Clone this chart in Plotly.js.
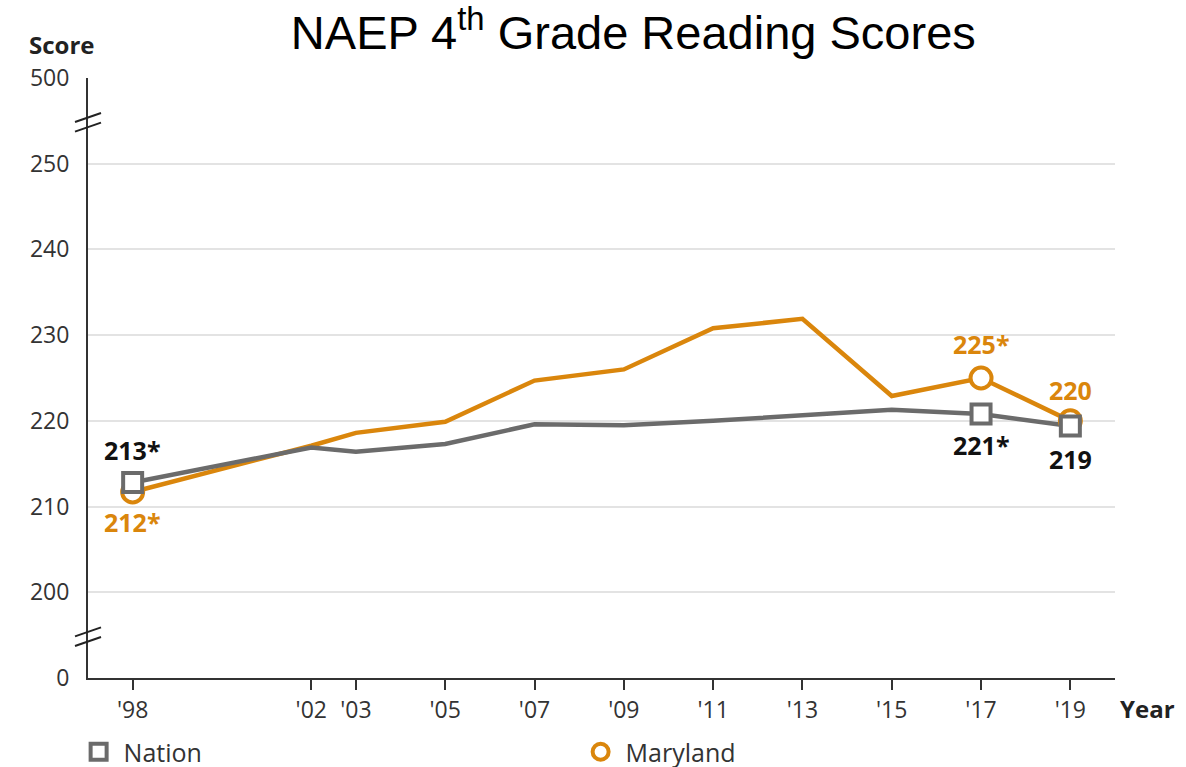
<!DOCTYPE html>
<html>
<head>
<meta charset="utf-8">
<script src="https://cdn.plot.ly/plotly-3.0.1.min.js"></script>
<style>html,body{margin:0;padding:0;background:#fff;}#chart{width:1186px;height:767px;}</style>
</head>
<body>
<div id="chart"></div>
<script>
// ---- data ----
const years = [1998, 2002, 2003, 2005, 2007, 2009, 2011, 2013, 2015, 2017, 2019];
const tickLabels = ["'98", "'02", "'03", "'05", "'07", "'09", "'11", "'13", "'15", "'17", "'19"];
const nation = [212.8, 216.9, 216.4, 217.3, 219.6, 219.5, 220.0, 220.6, 221.3, 220.8, 219.4];
const maryland = [211.7, 217.1, 218.6, 219.9, 224.7, 226.0, 230.8, 231.9, 222.9, 225.0, 220.0];
const markedIdx = [0, 9, 10];
const nationLabels = ["213*", "221*", "219"];
const marylandLabels = ["212*", "225*", "220"];
// y axis: broken scale (0 and 500 shown at one step beyond 200 and 250)
const yTickVals = [190, 200, 210, 220, 230, 240, 250, 260];
const yTickText = ["0", "200", "210", "220", "230", "240", "250", "500"];

const NAT = "#6b6b6b";
const MD = "#da860c";
const FONT = "Open Sans, sans-serif";

const traces = [
  {x: years, y: maryland, mode: "lines", line: {color: MD, width: 4.5}, showlegend: false, hoverinfo: "skip"},
  {x: years, y: nation, mode: "lines", line: {color: NAT, width: 4.5}, showlegend: false, hoverinfo: "skip"},
  {x: markedIdx.map(i => years[i]), y: markedIdx.map(i => maryland[i]), mode: "markers",
   marker: {symbol: "circle", size: 21, color: "#fff", line: {color: MD, width: 4}}, showlegend: false},
  {x: markedIdx.map(i => years[i]), y: markedIdx.map(i => nation[i]), mode: "markers",
   marker: {symbol: "square", size: 19, color: "#fff", line: {color: NAT, width: 4}}, showlegend: false},
  {x: [null], y: [null], mode: "markers", name: "Nation",
   marker: {symbol: "square", size: 16, color: "#fff", line: {color: NAT, width: 4}}},
  {x: [null], y: [null], mode: "markers", name: "Maryland",
   marker: {symbol: "circle", size: 17, color: "#fff", line: {color: MD, width: 4}}}
];

const labelFont = (c) => ({family: FONT, size: 25, color: c});
const annotations = [];
const natShift = [33, -31, -33];
const mdShift = [-30, 34, 31];
markedIdx.forEach((i, k) => {
  annotations.push({x: years[i], y: nation[i], text: "<b>" + nationLabels[k] + "</b>", showarrow: false,
    yshift: natShift[k], font: labelFont("#111")});
  annotations.push({x: years[i], y: maryland[i], text: "<b>" + marylandLabels[k] + "</b>", showarrow: false,
    yshift: mdShift[k], font: labelFont(MD)});
});
annotations.push({xref: "paper", yref: "paper", x: 0, y: 1, xanchor: "left", yanchor: "middle", xshift: -61, yshift: 34,
  text: "<b>Score</b>", showarrow: false, font: {family: FONT, size: 24, color: "#222"}});
annotations.push({xref: "paper", yref: "paper", x: 1.0, y: 0, xanchor: "left", yanchor: "middle", xshift: 3, yshift: -30,
  text: "<b>Year</b>", showarrow: false, font: {family: FONT, size: 24, color: "#222"}});

// axis break marks
const shapes = [];
[255, 195].forEach(v => {
  [-3, 3].forEach(off => {
    shapes.push({type: "line", xref: "paper", yref: "y", xsizemode: "pixel", ysizemode: "pixel",
      xanchor: 0, yanchor: v, x0: -13, x1: 13, y0: -6 + off * 1.6, y1: 3 + off * 1.6,
      line: {color: "#222", width: 2}});
  });
});

const layout = {
  width: 1186, height: 767,
  margin: {l: 88, r: 71, t: 78, b: 89, autoexpand: false},
  paper_bgcolor: "#fff", plot_bgcolor: "#fff",
  title: {text: "NAEP 4<sup>th</sup> Grade Reading Scores", x: 0.534, xanchor: "center", y: 0.957, yanchor: "middle",
    font: {family: "Liberation Sans, Arial, sans-serif", size: 47, color: "#000"}},
  xaxis: {range: [1997, 2020], tickvals: years, ticktext: tickLabels, showgrid: false, zeroline: false,
    showline: true, linecolor: "#333", linewidth: 2, ticks: "outside", ticklen: 10, tickwidth: 2, tickcolor: "#333",
    tickfont: {family: FONT, size: 23, color: "#333"}, fixedrange: true},
  yaxis: {range: [190, 260], tickvals: yTickVals, ticktext: yTickText, showgrid: true, gridcolor: "#e3e3e3", gridwidth: 2,
    zeroline: false, showline: true, linecolor: "#333", linewidth: 2, ticks: "outside", ticklen: 12, tickcolor: "rgba(0,0,0,0)",
    tickfont: {family: FONT, size: 23, color: "#333"}, fixedrange: true},
  legend: {orientation: "h", x: -0.014, xanchor: "left", y: -0.085, yanchor: "top", entrywidth: 447, entrywidthmode: "pixels",
    font: {family: FONT, size: 25, color: "#333"}, itemwidth: 40, bgcolor: "rgba(0,0,0,0)"},
  annotations: annotations,
  shapes: shapes,
  showlegend: true
};

Plotly.newPlot("chart", traces, layout, {displayModeBar: false, staticPlot: true});
</script>
</body>
</html>
